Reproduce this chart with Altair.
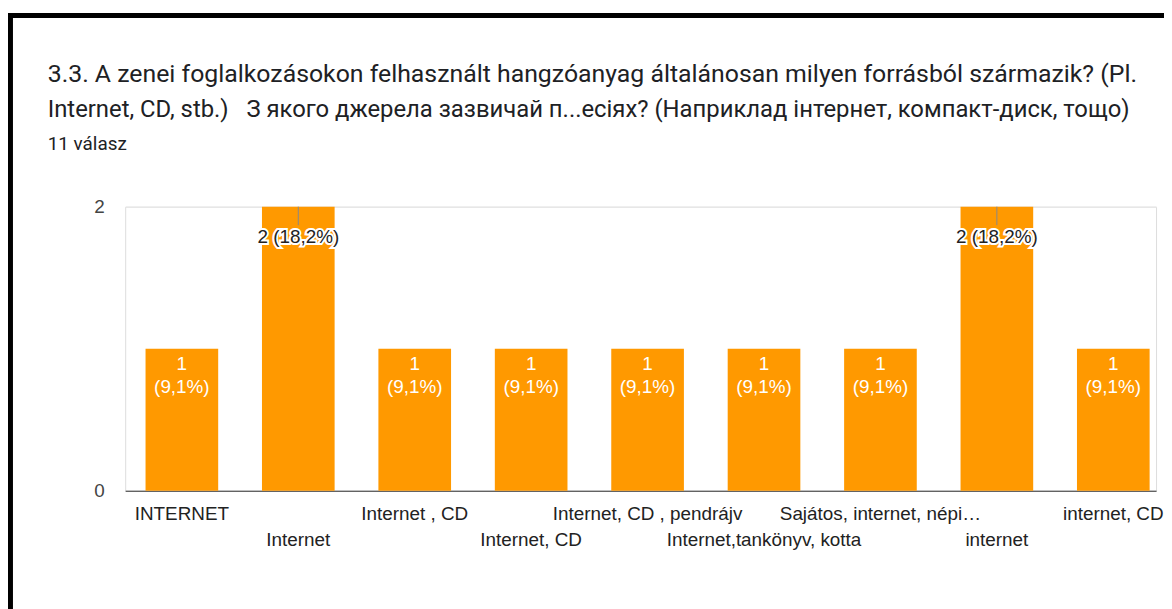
import altair as alt
import pandas as pd

categories = ["INTERNET", "Internet", "Internet , CD", "Internet, CD",
              "Internet, CD , pendrájv", "Internet,tankönyv, kotta",
              "Sajátos, internet, népi…", "internet", "internet, CD"]
counts = [1, 2, 1, 1, 1, 1, 1, 2, 1]
total_responses = 11
title_lines = [
    "3.3. A zenei foglalkozásokon felhasznált hangzóanyag általánosan milyen forrásból származik? (Pl.",
    "Internet, CD, stb.) \u00a0 З якого джерела зазвичай п...есіях? (Наприклад інтернет, компакт-диск, тощо)",
]
subtitle = f"{total_responses} válasz"

df = pd.DataFrame({"cat": categories, "count": counts})
df["pct"] = [f"{c / total_responses * 100:.1f}".replace(".", ",") + "%" for c in counts]
df["lbl_in"] = [[str(c), f"({p})"] for c, p in zip(counts, df["pct"])]
df["lbl_out"] = [f"{c} ({p})" for c, p in zip(counts, df["pct"])]
df["stem"] = df["count"] - 0.13

W, H = 1038, 286
FONT = "Liberation Sans"
FS = 19

x = alt.X("cat:N", sort=categories, title=None,
          scale=alt.Scale(paddingInner=0.376, paddingOuter=0.115, align=0.76),
          axis=alt.Axis(labelAngle=0, labelFont=FONT, labelFontSize=FS, labelColor="#222222",
                        labelOverlap=False, labelLimit=400, ticks=False, domain=True,
                        domainColor="#333333", domainWidth=1, labelPadding=14,
                        labelLineHeight=26,
                        labelExpr="round(datum.index*8) % 2 == 1 ? ['', datum.label] : datum.label"))
y = alt.Y("count:Q", title=None, scale=alt.Scale(domain=[0, 2]),
          axis=alt.Axis(values=[0, 1, 2], format="d", ticks=False, domain=False,
                        labelFont=FONT, labelFontSize=FS, labelColor="#444444",
                        labelPadding=21, gridColor="#e6e6e6", gridWidth=1))

base = alt.Chart(df)
bars = base.mark_bar(color="#ff9900").encode(x=x, y=y)

inside = base.transform_filter("datum.count < 2").mark_text(
    font=FONT, fontSize=FS, color="white", baseline="top", dy=6, lineHeight=24
).encode(x=alt.X("cat:N", sort=categories), y="count:Q", text="lbl_in")

stem = base.transform_filter("datum.count >= 2").mark_rule(color="#888888", strokeWidth=1).encode(
    x=alt.X("cat:N", sort=categories), y="count:Q", y2="stem:Q")

halo = base.transform_filter("datum.count >= 2").mark_text(
    font=FONT, fontSize=FS, color="white", stroke="white", strokeWidth=4,
    baseline="middle", dy=31
).encode(x=alt.X("cat:N", sort=categories), y="count:Q", text="lbl_out")
outside = base.transform_filter("datum.count >= 2").mark_text(
    font=FONT, fontSize=FS, color="#222222", baseline="middle", dy=31
).encode(x=alt.X("cat:N", sort=categories), y="count:Q", text="lbl_out")

tdf = pd.DataFrame({"t": title_lines + [subtitle], "row": [0, 1, 2]})
title_l1 = alt.Chart(tdf).transform_filter("datum.row == 0").mark_text(
    font="Roboto", fontSize=25, color="#202124", align="left", baseline="alphabetic"
).encode(text="t:N", x=alt.value(-78), y=alt.value(-126))
title_l2 = alt.Chart(tdf).transform_filter("datum.row == 1").mark_text(
    font="Roboto", fontSize=24, color="#202124", align="left", baseline="alphabetic"
).encode(text="t:N", x=alt.value(-78), y=alt.value(-90))
sub = alt.Chart(tdf).transform_filter("datum.row == 2").mark_text(
    font="Roboto", fontSize=19, color="#202124", align="left", baseline="alphabetic"
).encode(text="t:N", x=alt.value(-78), y=alt.value(-57))

frame_top = alt.Chart(pd.DataFrame({"k": [0]})).mark_rule(color="black", strokeWidth=5).encode(
    x=alt.value(-118), x2=alt.value(W + 10), y=alt.value(-192.5))
frame_left = alt.Chart(pd.DataFrame({"k": [0]})).mark_rule(color="black", strokeWidth=5).encode(
    x=alt.value(-115.5), y=alt.value(-195), y2=alt.value(H + 120))

chart = alt.layer(bars, inside, stem, halo, outside, title_l1, title_l2, sub,
                  frame_top, frame_left).properties(
    width=W, height=H,
    autosize=alt.AutoSizeParams(type="none"),
    padding={"left": 118, "top": 198, "right": 8, "bottom": 117},
).configure_view(stroke=None).configure(background="white")

chart.save("out.html", embed_options={"renderer": "svg", "actions": False})
